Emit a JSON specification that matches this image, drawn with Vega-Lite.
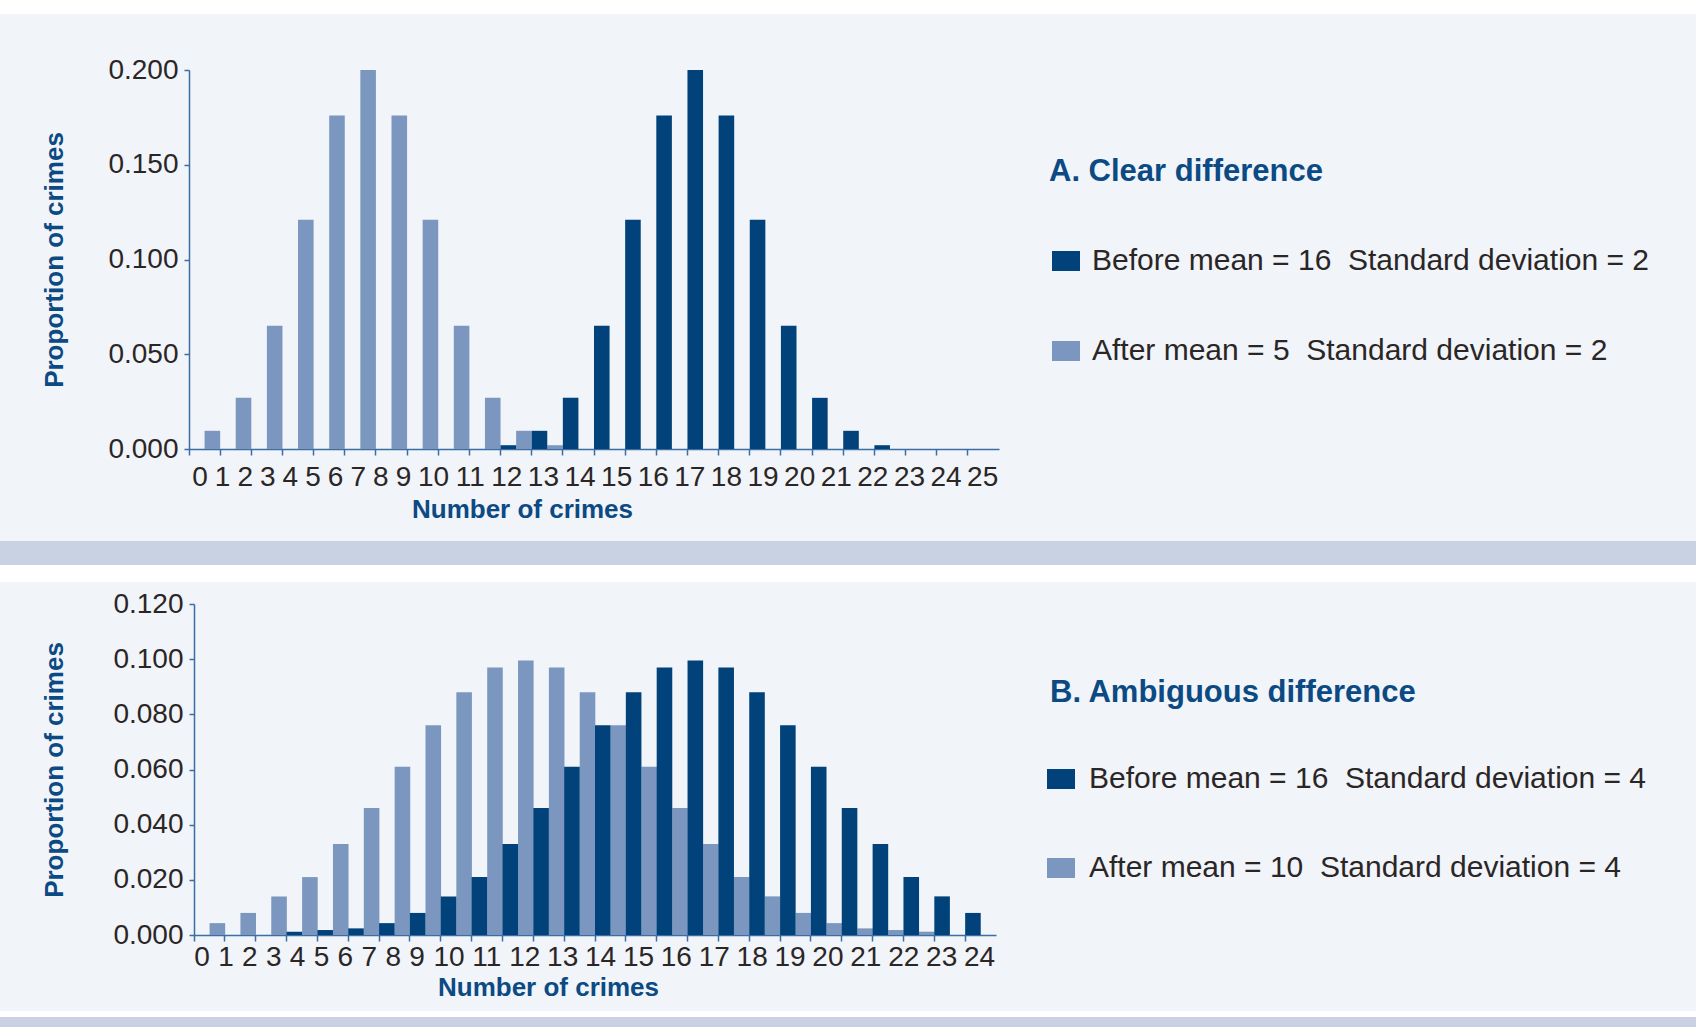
{
  "$schema": "https://vega.github.io/schema/vega-lite/v6.json",
  "background": "#f1f4f9",
  "padding": 0,
  "columns": 1,
  "align": "none",
  "bounds": "full",
  "spacing": 0,
  "datasets": {
    "a": [
      {"k": 0, "series": "After", "p": 0.0096},
      {"k": 1, "series": "After", "p": 0.027},
      {"k": 2, "series": "After", "p": 0.065},
      {"k": 3, "series": "After", "p": 0.121},
      {"k": 4, "series": "After", "p": 0.176},
      {"k": 5, "series": "After", "p": 0.2},
      {"k": 6, "series": "After", "p": 0.176},
      {"k": 7, "series": "After", "p": 0.121},
      {"k": 8, "series": "After", "p": 0.065},
      {"k": 9, "series": "After", "p": 0.027},
      {"k": 10, "series": "After", "p": 0.0096},
      {"k": 11, "series": "After", "p": 0.002},
      {"k": 10, "series": "Before", "p": 0.002},
      {"k": 11, "series": "Before", "p": 0.0096},
      {"k": 12, "series": "Before", "p": 0.027},
      {"k": 13, "series": "Before", "p": 0.065},
      {"k": 14, "series": "Before", "p": 0.121},
      {"k": 15, "series": "Before", "p": 0.176},
      {"k": 16, "series": "Before", "p": 0.2},
      {"k": 17, "series": "Before", "p": 0.176},
      {"k": 18, "series": "Before", "p": 0.121},
      {"k": 19, "series": "Before", "p": 0.065},
      {"k": 20, "series": "Before", "p": 0.027},
      {"k": 21, "series": "Before", "p": 0.0096},
      {"k": 22, "series": "Before", "p": 0.002}
    ],
    "b": [
      {"k": 0, "series": "After", "p": 0.0043},
      {"k": 1, "series": "After", "p": 0.008},
      {"k": 2, "series": "After", "p": 0.014},
      {"k": 3, "series": "After", "p": 0.021},
      {"k": 4, "series": "After", "p": 0.033},
      {"k": 5, "series": "After", "p": 0.046},
      {"k": 6, "series": "After", "p": 0.061},
      {"k": 7, "series": "After", "p": 0.076},
      {"k": 8, "series": "After", "p": 0.088},
      {"k": 9, "series": "After", "p": 0.097},
      {"k": 10, "series": "After", "p": 0.0995},
      {"k": 11, "series": "After", "p": 0.097},
      {"k": 12, "series": "After", "p": 0.088},
      {"k": 13, "series": "After", "p": 0.076},
      {"k": 14, "series": "After", "p": 0.061},
      {"k": 15, "series": "After", "p": 0.046},
      {"k": 16, "series": "After", "p": 0.033},
      {"k": 17, "series": "After", "p": 0.021},
      {"k": 18, "series": "After", "p": 0.014},
      {"k": 19, "series": "After", "p": 0.008},
      {"k": 20, "series": "After", "p": 0.0043},
      {"k": 21, "series": "After", "p": 0.0024},
      {"k": 22, "series": "After", "p": 0.0018},
      {"k": 23, "series": "After", "p": 0.0012},
      {"k": 3, "series": "Before", "p": 0.0012},
      {"k": 4, "series": "Before", "p": 0.0018},
      {"k": 5, "series": "Before", "p": 0.0024},
      {"k": 6, "series": "Before", "p": 0.0043},
      {"k": 7, "series": "Before", "p": 0.008},
      {"k": 8, "series": "Before", "p": 0.014},
      {"k": 9, "series": "Before", "p": 0.021},
      {"k": 10, "series": "Before", "p": 0.033},
      {"k": 11, "series": "Before", "p": 0.046},
      {"k": 12, "series": "Before", "p": 0.061},
      {"k": 13, "series": "Before", "p": 0.076},
      {"k": 14, "series": "Before", "p": 0.088},
      {"k": 15, "series": "Before", "p": 0.097},
      {"k": 16, "series": "Before", "p": 0.0995},
      {"k": 17, "series": "Before", "p": 0.097},
      {"k": 18, "series": "Before", "p": 0.088},
      {"k": 19, "series": "Before", "p": 0.076},
      {"k": 20, "series": "Before", "p": 0.061},
      {"k": 21, "series": "Before", "p": 0.046},
      {"k": 22, "series": "Before", "p": 0.033},
      {"k": 23, "series": "Before", "p": 0.021},
      {"k": 24, "series": "Before", "p": 0.014},
      {"k": 25, "series": "Before", "p": 0.008}
    ]
  },
  "config": {
    "view": {"stroke": null},
    "font": "Liberation Sans",
    "axis": {
      "domainColor": "#3a6ea5",
      "tickColor": "#3a6ea5",
      "domainWidth": 1.5,
      "tickWidth": 1.5,
      "labelFont": "Liberation Sans",
      "labelFontSize": 28,
      "labelColor": "#2b2626",
      "titleFont": "Liberation Sans",
      "titleFontWeight": "bold",
      "titleColor": "#0c4a84",
      "grid": false
    },
    "axisY": {"tickSize": 5, "labelPadding": 6, "titleFontSize": 26, "titlePadding": 40},
    "axisX": {"tickSize": 6, "labelPadding": 8, "labelAngle": 0, "titleFontSize": 26, "titlePadding": 5},
    "legend": {
      "orient": "none",
      "direction": "vertical",
      "padding": 0,
      "symbolType": "M-1.4,-1H1.4V1H-1.4Z",
      "symbolSize": 400,
      "symbolStrokeWidth": 0,
      "symbolOpacity": 1,
      "labelFont": "Liberation Sans",
      "labelFontSize": 30,
      "labelColor": "#2b2626",
      "labelLimit": 800,
      "rowPadding": 60,
      "titleFont": "Liberation Sans",
      "titleFontSize": 31,
      "titleFontWeight": "bold",
      "titleColor": "#0c4a84",
      "titleLimit": 800,
      "titlePadding": 58
    }
  },
  "resolve": {"scale": {"color": "independent"}, "legend": {"color": "independent"}},
  "concat": [
    {"width": 1696, "height": 14, "data": {"values": [{}]}, "mark": {"type": "rect", "opacity": 0}, "encoding": {}, "view": {"fill": "#ffffff"}},
    {"width": 1696, "height": 42, "data": {"values": [{}]}, "mark": {"type": "rect", "opacity": 0}, "encoding": {}},
    {
      "spacing": 0,
      "resolve": {"scale": {"color": "independent"}, "legend": {"color": "independent"}},
      "hconcat": [
        {"width": 41, "height": 1, "data": {"values": [{}]}, "mark": {"type": "rect", "opacity": 0}, "encoding": {}},
        {
          "width": 810,
          "height": 379,
          "data": {"name": "a"},
          "mark": {"type": "bar"},
          "encoding": {
            "x": {
              "field": "k", "type": "ordinal",
              "scale": {"domain": [0,1,2,3,4,5,6,7,8,9,10,11,12,13,14,15,16,17,18,19,20,21,22,23,24,25], "paddingInner": 0, "paddingOuter": 0},
              "axis": {
                "title": "Number of crimes", "titleX": 333, "bandPosition": 0,
                "labelOffset": {"expr": "datum.value < 10 ? -4.6 - 8.55 * datum.value : -137 + 5.45 * datum.value"}
              }
            },
            "xOffset": {"field": "series", "type": "nominal", "scale": {"domain": ["Before", "After"], "paddingInner": 0, "paddingOuter": 0}},
            "y": {
              "field": "p", "type": "quantitative",
              "scale": {"domain": [0, 0.2], "nice": false},
              "axis": {"title": "Proportion of crimes", "values": [0, 0.05, 0.1, 0.15, 0.2], "format": ".3f"}
            },
            "color": {
              "field": "series", "type": "nominal",
              "scale": {"domain": ["Before", "After"], "range": ["#004279", "#7b97bf"]},
              "legend": {
                "title": "A. Clear difference",
                "legendX": 860,
                "legendY": 87,
                "symbolOffset": 2,
                "labelOffset": 11,
                "labelExpr": "datum.label == 'Before' ? 'Before mean = 16\u00a0 Standard deviation = 2' : 'After mean = 5\u00a0 Standard deviation = 2'"
              }
            }
          }
        }
      ]
    },
    {"width": 1696, "height": 19, "data": {"values": [{}]}, "mark": {"type": "rect", "opacity": 0}, "encoding": {}},
    {"width": 1696, "height": 24, "data": {"values": [{}]}, "mark": {"type": "rect", "opacity": 0}, "encoding": {}, "view": {"fill": "#c9d2e3"}},
    {"width": 1696, "height": 17, "data": {"values": [{}]}, "mark": {"type": "rect", "opacity": 0}, "encoding": {}, "view": {"fill": "#ffffff"}},
    {"width": 1696, "height": 8, "data": {"values": [{}]}, "mark": {"type": "rect", "opacity": 0}, "encoding": {}},
    {
      "spacing": 0,
      "resolve": {"scale": {"color": "independent"}, "legend": {"color": "independent"}},
      "hconcat": [
        {"width": 41, "height": 1, "data": {"values": [{}]}, "mark": {"type": "rect", "opacity": 0}, "encoding": {}},
        {
          "width": 802,
          "height": 331,
          "data": {"name": "b"},
          "mark": {"type": "bar"},
          "encoding": {
            "x": {
              "field": "k", "type": "ordinal",
              "scale": {"domain": [0,1,2,3,4,5,6,7,8,9,10,11,12,13,14,15,16,17,18,19,20,21,22,23,24,25], "paddingInner": 0, "paddingOuter": 0},
              "axis": {
                "title": "Number of crimes", "titleX": 354, "bandPosition": 0,
                "labelPadding": 2, "titlePadding": 3,
                "labelOffset": {"expr": "datum.value < 10 ? -7.4 - 6.95 * datum.value : -139.4 + 7.05 * datum.value"},
                "labelExpr": "datum.value == 25 ? '' : datum.label"
              }
            },
            "xOffset": {"field": "series", "type": "nominal", "scale": {"domain": ["Before", "After"], "paddingInner": 0, "paddingOuter": 0}},
            "y": {
              "field": "p", "type": "quantitative",
              "scale": {"domain": [0, 0.12], "nice": false},
              "axis": {"title": "Proportion of crimes", "titlePadding": 45, "values": [0, 0.02, 0.04, 0.06, 0.08, 0.1, 0.12], "format": ".3f"}
            },
            "color": {
              "field": "series", "type": "nominal",
              "scale": {"domain": ["Before", "After"], "range": ["#004279", "#7b97bf"]},
              "legend": {
                "title": "B. Ambiguous difference",
                "legendX": 856,
                "legendY": 74,
                "symbolOffset": -4,
                "labelOffset": 13,
                "titlePadding": 55,
                "rowPadding": 59,
                "labelExpr": "datum.label == 'Before' ? 'Before mean = 16\u00a0 Standard deviation = 4' : 'After mean = 10\u00a0 Standard deviation = 4'"
              }
            }
          }
        }
      ]
    },
    {"width": 1696, "height": 11, "data": {"values": [{}]}, "mark": {"type": "rect", "opacity": 0}, "encoding": {}},
    {"width": 1696, "height": 6, "data": {"values": [{}]}, "mark": {"type": "rect", "opacity": 0}, "encoding": {}, "view": {"fill": "#ffffff"}},
    {"width": 1696, "height": 10, "data": {"values": [{}]}, "mark": {"type": "rect", "opacity": 0}, "encoding": {}, "view": {"fill": "#c9d2e3"}}
  ]
}
